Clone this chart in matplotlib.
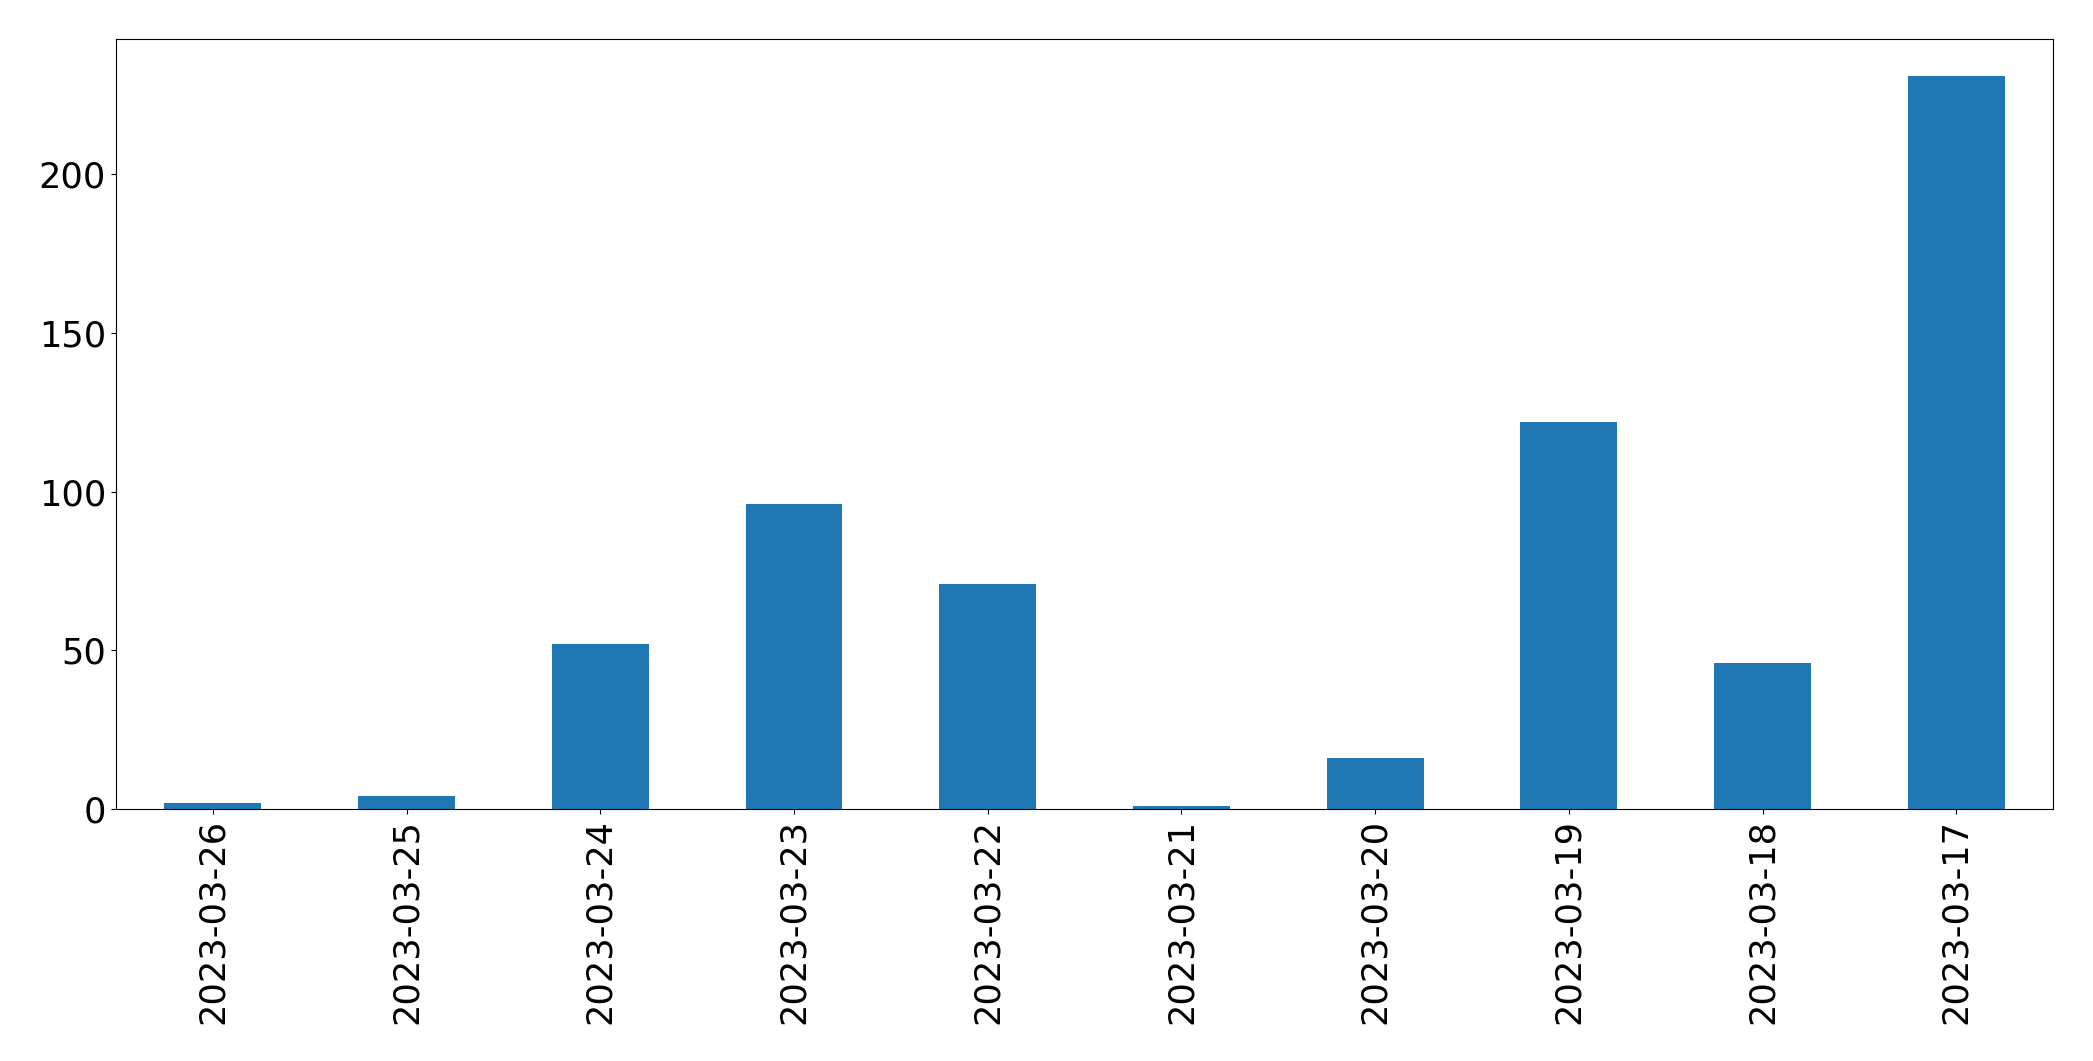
import matplotlib
matplotlib.use('Agg')
import matplotlib.pyplot as plt

# Количество по датам
dates = ['2023-03-26', '2023-03-25', '2023-03-24', '2023-03-23', '2023-03-22',
         '2023-03-21', '2023-03-20', '2023-03-19', '2023-03-18', '2023-03-17']
counts = [2, 4, 52, 96, 71, 1, 16, 122, 46, 231]

fig, ax = plt.subplots(figsize=(20.93, 10.61), dpi=100)
fig.subplots_adjust(left=0.0554, right=0.981, top=0.963, bottom=0.2375)

pos = range(len(dates))
ax.bar(pos, counts, width=0.5, color='#1f77b4')
ax.set_xlim(-0.5, len(dates) - 0.5)
ax.set_xticks(list(pos))
ax.set_xticklabels(dates, rotation=90)
ax.tick_params(labelsize=25.3)

fig.savefig('out.png', dpi=100)
